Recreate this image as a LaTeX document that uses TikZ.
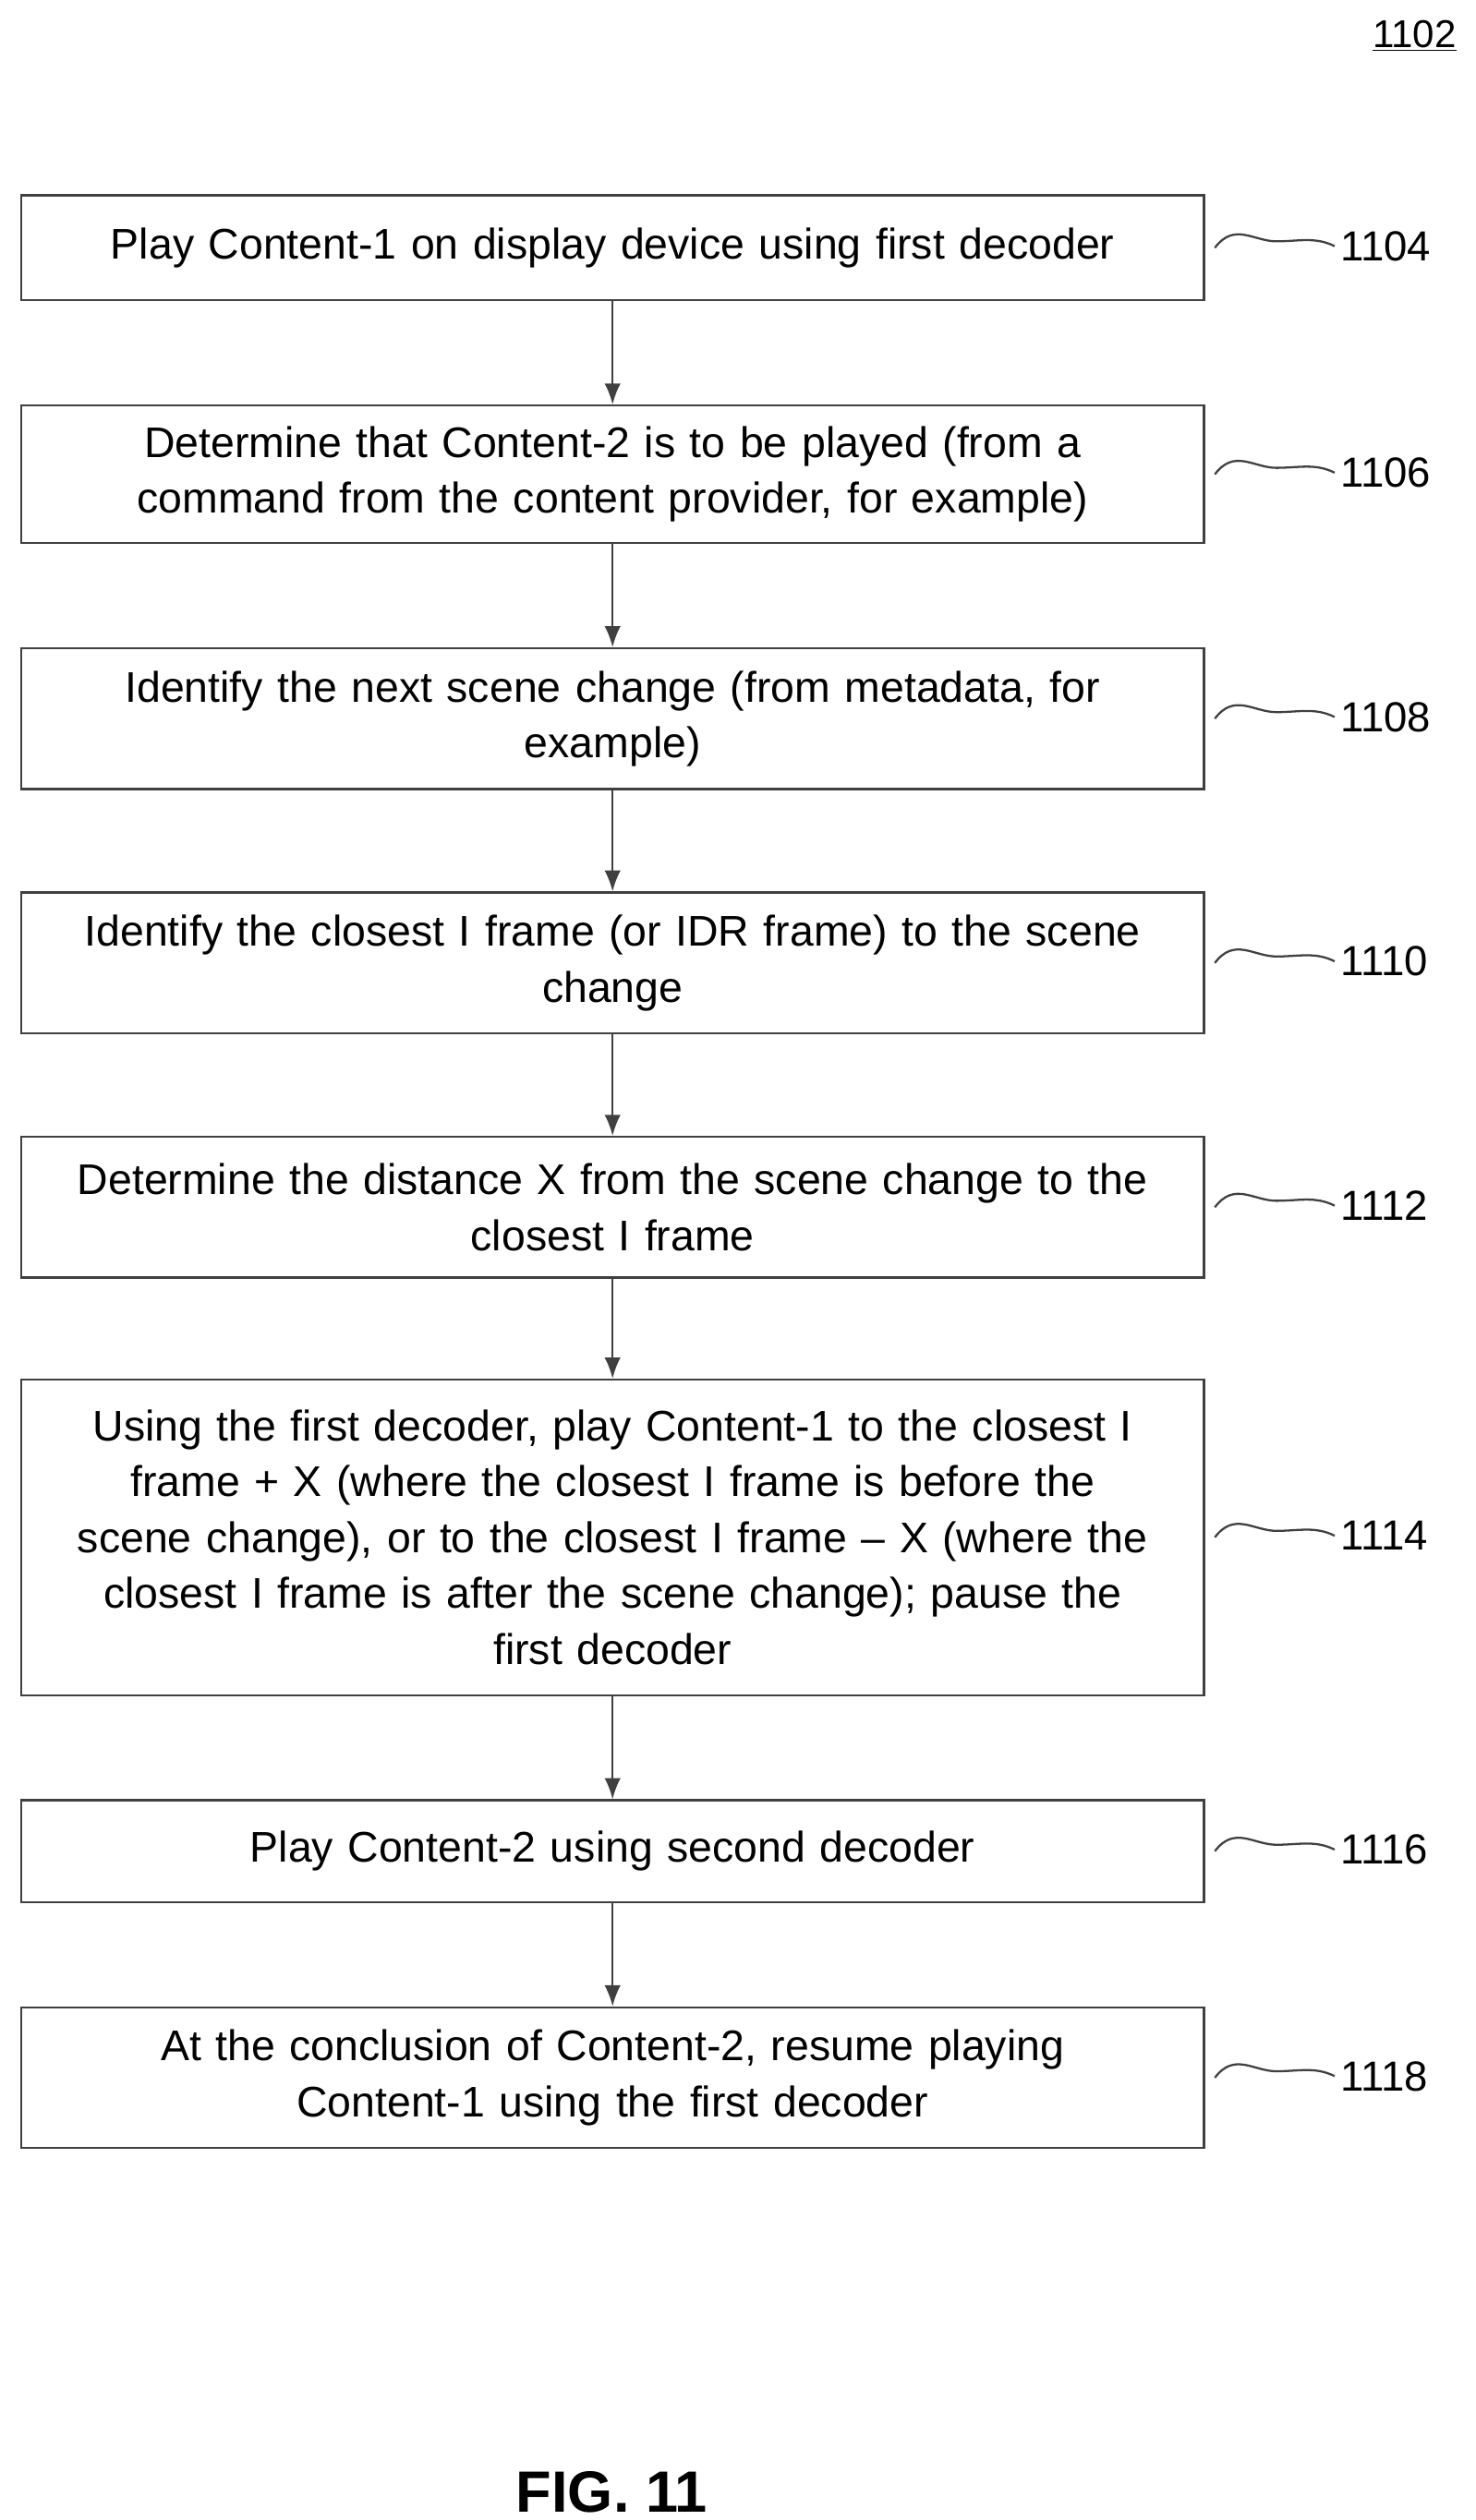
\documentclass[tikz,border=0pt]{standalone}
\usepackage{fontspec}
\setmainfont{Liberation Sans}
\usetikzlibrary{arrows.meta}
\begin{document}
\begin{tikzpicture}[x=1pt,y=-1pt,
 box/.style={draw=black!75,line width=1.3pt,align=center,text width=731pt,font=\fontsize{26.5}{34.5}\selectfont,inner sep=0pt,anchor=north},
 arr/.style={-{Latex[length=13pt,width=10pt]},line width=1.2pt,black!75},
 lab/.style={font=\fontsize{26}{30}\selectfont,anchor=west},
 sq/.style={line width=1.3pt,black!75}]
\useasboundingbox (0,0) rectangle (912,1557.5);
\node[font=\fontsize{24}{28}\selectfont] (t) at (874,22) {\underline{1102}};
\def\mk#1#2#3#4{\node[box,minimum height=#3pt] (b#1) at (378.5,#2) {#4};}
\mk{1}{120}{65}{Play Content-1 on display device using first decoder}
\mk{2}{250}{85}{Determine that Content-2 is to be played (from a\\command from the content provider, for example)}
\mk{3}{400}{87}{Identify the next scene change (from metadata, for\\example)}
\mk{4}{551}{87}{Identify the closest I frame (or IDR frame) to the scene\\change}
\mk{5}{702}{87}{Determine the distance X from the scene change to the\\closest I frame}
\mk{6}{852}{195}{Using the first decoder, play Content-1 to the closest I\\frame + X (where the closest I frame is before the\\scene change), or to the closest I frame -- X (where the\\closest I frame is after the scene change); pause the\\first decoder}
\mk{7}{1112}{63}{Play Content-2 using second decoder}
\mk{8}{1240}{87}{At the conclusion of Content-2, resume playing\\Content-1 using the first decoder}
\foreach \a/\b in {1/2,2/3,3/4,4/5,5/6,6/7,7/8} \draw[arr] (b\a.south) -- (b\b.north);
\foreach \i/\n in {1/1104,2/1106,3/1108,4/1110,5/1112,6/1114,7/1116,8/1118}{
 \coordinate (s\i) at ([xshift=6pt]b\i.east);
 \node[lab] (l\i) at ([xshift=80pt,yshift=1pt]b\i.east) {\n};
 \draw[sq] (s\i) .. controls ++(12,-16) and ++(-14,0) .. ++(38,-4) .. controls ++(14,0) and ++(-12,-6) .. (l\i.west);
}
\node[font=\bfseries\fontsize{36}{42}\selectfont] (fig) at (378,1540) {FIG. 11};
\end{tikzpicture}
\end{document}
